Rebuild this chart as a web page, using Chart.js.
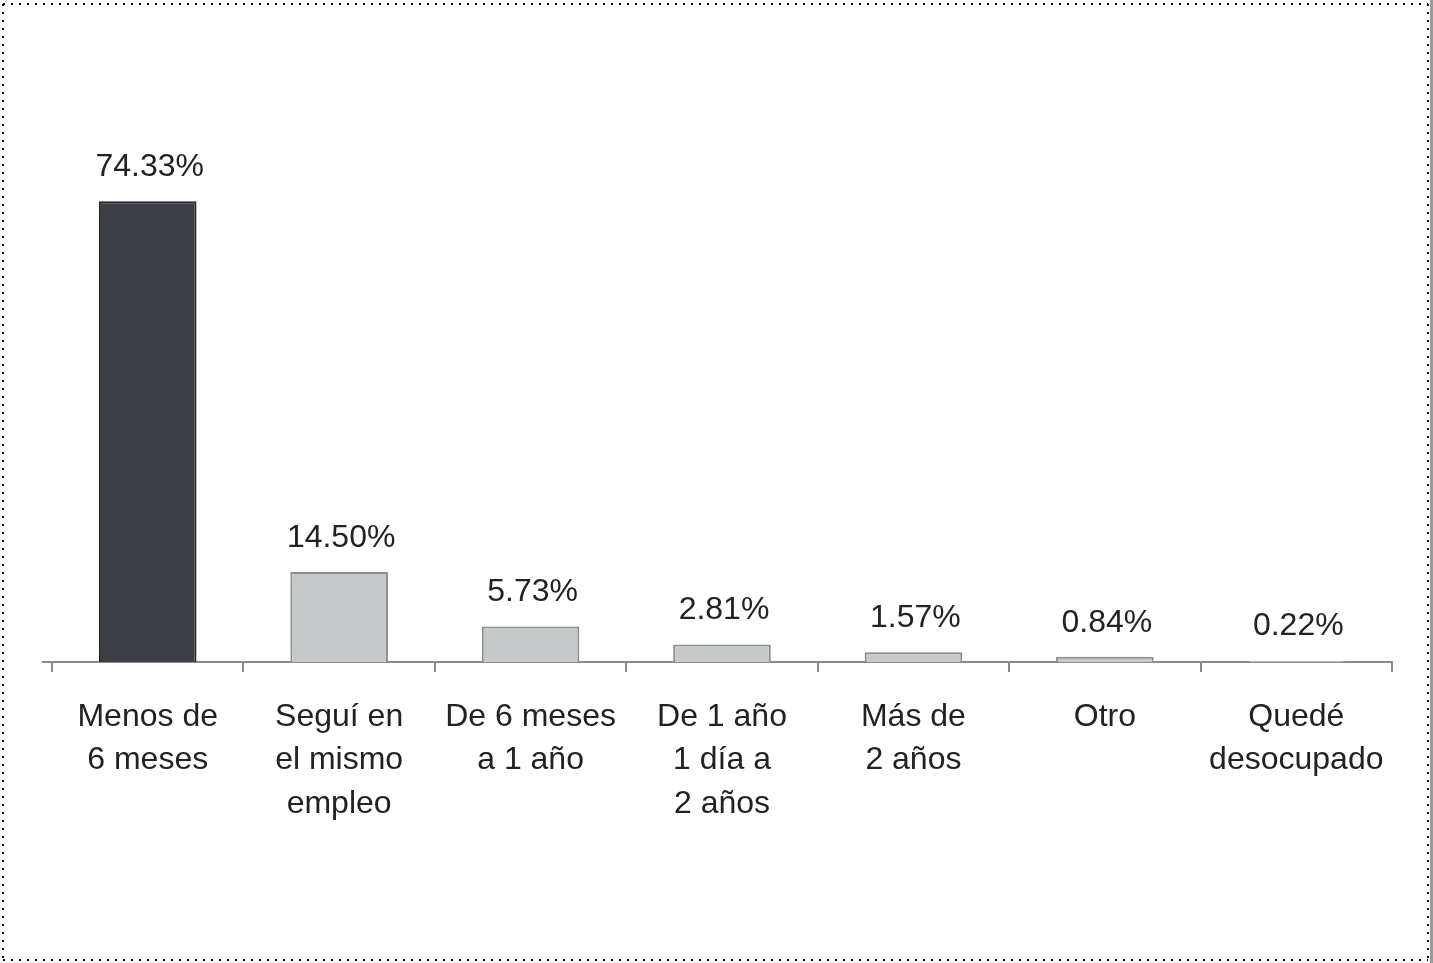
<!DOCTYPE html>
<html>
<head>
<meta charset="utf-8">
<script src="https://cdn.jsdelivr.net/npm/chart.js@4/dist/chart.umd.min.js"></script>
<style>
html,body{margin:0;padding:0;background:#fff;}
#wrap{width:1433px;height:963px;position:relative;}
</style>
</head>
<body>
<div id="wrap"><canvas id="c" width="1433" height="963"></canvas></div>
<script>
const categories = [
  ["Menos de","6 meses"],
  ["Seguí en","el mismo","empleo"],
  ["De 6 meses","a 1 año"],
  ["De 1 año","1 día a","2 años"],
  ["Más de","2 años"],
  ["Otro"],
  ["Quedé","desocupado"]
];
const values = [74.33, 14.50, 5.73, 2.81, 1.57, 0.84, 0.22];
const valueLabels = ["74.33%","14.50%","5.73%","2.81%","1.57%","0.84%","0.22%"];
const barColors = ["#3b3f45","#c6c9c9","#c6c9c9","#c6c9c9","#c6c9c9","#c6c9c9","#c6c9c9"];
const borderColors = ["#262626","#8c8c8c","#8c8c8c","#8c8c8c","#8c8c8c","#8c8c8c","#8c8c8c"];

const FONT = "'Liberation Sans', Arial, sans-serif";

const framePlugin = {
  id: 'frame',
  beforeDraw(chart) {
    const ctx = chart.ctx;
    ctx.save();
    ctx.fillStyle = '#fff';
    ctx.fillRect(0, 0, chart.width, chart.height);
    ctx.fillStyle = '#9a9a9a';
    ctx.fillRect(1430, 0, 3, 963);
    ctx.strokeStyle = '#000';
    ctx.lineWidth = 2;
    ctx.setLineDash([2, 6]);
    ctx.beginPath();
    ctx.moveTo(3, 4); ctx.lineTo(1428, 4);
    ctx.moveTo(1428, 4); ctx.lineTo(1428, 960);
    ctx.moveTo(3, 960); ctx.lineTo(1428, 960);
    ctx.moveTo(3, 4); ctx.lineTo(3, 960);
    ctx.stroke();
    ctx.restore();
  },
  afterDraw(chart) {
    const ctx = chart.ctx;
    const a = chart.chartArea;
    ctx.save();
    ctx.strokeStyle = '#8c8c8c';
    ctx.lineWidth = 2;
    ctx.beginPath();
    ctx.moveTo(a.left - 10, a.bottom);
    ctx.lineTo(a.left, a.bottom);
    ctx.stroke();
    ctx.restore();
  },
  afterDatasetsDraw(chart) {
    const ctx = chart.ctx;
    const meta = chart.getDatasetMeta(0);
    ctx.save();
    ctx.fillStyle = '#222';
    ctx.font = '32px ' + FONT;
    ctx.textAlign = 'center';
    ctx.textBaseline = 'middle';
    meta.data.forEach((bar, i) => {
      ctx.fillText(valueLabels[i], bar.x + 2, bar.y - 34);
    });
    ctx.restore();
  }
};

new Chart(document.getElementById('c'), {
  type: 'bar',
  data: {
    labels: categories,
    datasets: [{
      data: values,
      backgroundColor: barColors,
      borderColor: borderColors,
      borderWidth: 2,
      barPercentage: 0.51,
      categoryPercentage: 1.0
    }]
  },
  options: {
    responsive: false,
    animation: false,
    devicePixelRatio: 1,
    layout: { padding: { left: 52, right: 41, top: 166, bottom: 0 } },
    plugins: { legend: { display: false }, tooltip: { enabled: false } },
    scales: {
      y: { display: false, min: 0, max: 80 },
      x: {
        afterFit(scale) { scale.height = 301; },
        border: { display: true, color: '#8c8c8c', width: 2 },
        grid: { display: true, drawOnChartArea: false, drawTicks: true, tickLength: 10, color: '#8c8c8c', lineWidth: 2, offset: true },
        ticks: {
          color: '#222',
          font: { family: FONT, size: 32, lineHeight: 1.36 },
          padding: 23,
          maxRotation: 0,
          autoSkip: false
        }
      }
    }
  },
  plugins: [framePlugin]
});
</script>
</body>
</html>
